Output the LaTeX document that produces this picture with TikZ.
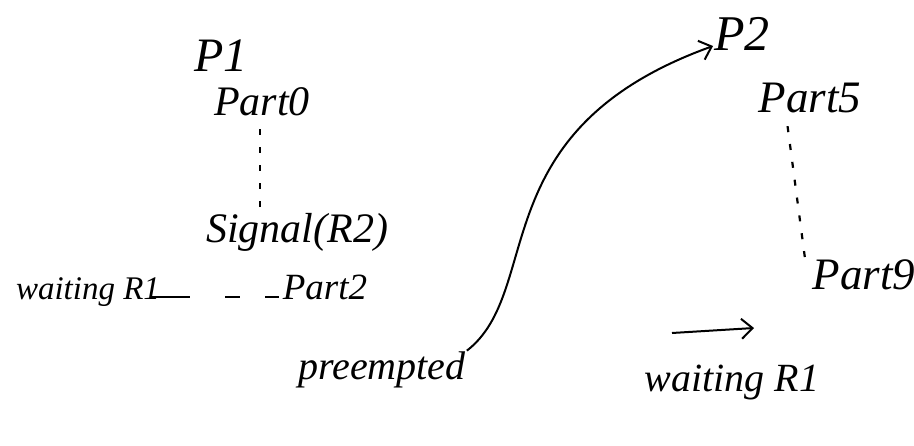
\documentclass[tikz,border=0pt]{standalone}
\usepackage{fontspec}
\setmainfont{Liberation Serif}
\usetikzlibrary{arrows.meta,calc}
\begin{document}
\begin{tikzpicture}[x=1pt,y=-1pt,
  hand/.style={font=\fontsize{#1}{#1}\selectfont\itshape, inner sep=1pt},
  dots/.style={line width=2.2pt, dash pattern=on 6pt off 12pt},
  ink/.style={line width=2pt},
  barb/.style={-{Straight Barb[length=11pt,width=20pt,line width=2pt]}}]
\useasboundingbox (0,0) rectangle (914,445);
\node[hand=48] (p1)  at (221,56)  {P1};
\node[hand=42] (p0)  at (262,102) {Part0};
\node[hand=42] (sig) at (297,232) {Signal(R2)};
\node[hand=33] (w1)  at (88,292)  {waiting R1};
\node[hand=37] (p2)  at (325,287) {Part2};
\node[hand=40] (pre) at (382,370) {preempted};
\node[hand=50] (pp2) at (742,34)  {P2};
\node[hand=45] (p5)  at (810,98)  {Part5};
\node[hand=45] (p9)  at (864,275) {Part9};
\node[hand=40] (w2)  at (732,383) {waiting R1};
\coordinate (a1) at (672,333);
\coordinate (a2) at (754,328);
\draw[dots] (p0.south) ++(-2,12) coordinate (l0) -- (l0 |- sig.north);
\draw[dots] ($(p5.south west)+(30,12)$) -- ($(p9.north west)+(-6,4)$);
\draw[ink, dash pattern=on 40pt off 35pt on 15pt off 25pt on 14pt off 40pt] (150,297) -- (p2.west |- 0,297);
\draw[ink, barb] (pre.north east) .. controls (545,290) and (480,130) .. ($(pp2.west)+(0,12)$);
\draw[ink, barb] (a1) -- (a2);
\end{tikzpicture}
\end{document}
